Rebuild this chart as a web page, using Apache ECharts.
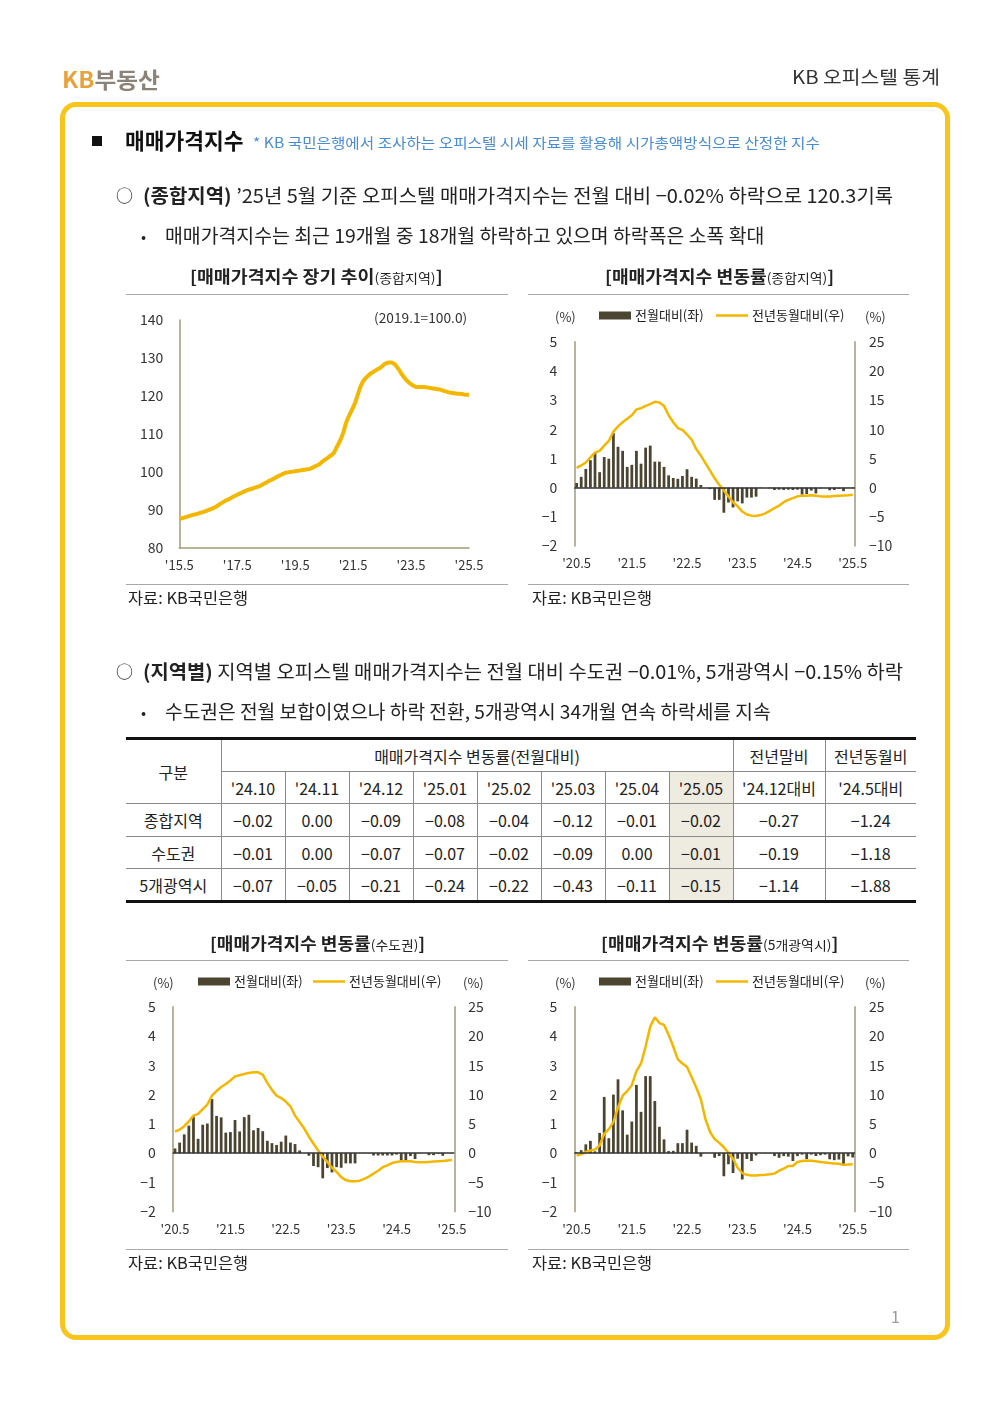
<!DOCTYPE html>
<html><head><meta charset="utf-8">
<script src="https://cdn.jsdelivr.net/npm/echarts@6/dist/echarts.min.js"></script>
<style>
body{margin:0;background:#fff;}
#page{position:relative;width:1000px;height:1414px;overflow:hidden;font-family:"Noto Sans CJK KR","Noto Sans",sans-serif;color:#222;}
.t{position:absolute;white-space:nowrap;line-height:1;transform-origin:0 50%;}
.rule{position:absolute;height:1px;background:#a8a8a8;}
#chart{position:absolute;left:0;top:0;width:1000px;height:1414px;}
#tbl{position:absolute;left:126px;top:737px;width:790px;border-collapse:collapse;table-layout:fixed;font-size:16px;color:#222;}
#tbl td{border:1px solid #8a8a8a;text-align:center;padding:0;white-space:nowrap;}
#tbl tr:first-child td{border-top:3px solid #111;}
#tbl tr:last-child td{border-bottom:3px solid #111;}
#tbl td:first-child{border-left:none;}
#tbl td:last-child{border-right:none;}
</style>
</head><body>
<div id="page">
  <div style="position:absolute;left:60px;top:102px;width:890px;height:1238px;border:5px solid #F8C51C;border-radius:16px;box-sizing:border-box;"></div>
  <div style="position:absolute;left:92px;top:136px;width:10px;height:10px;background:#111;"></div>
  <div class="rule" style="left:126px;top:294px;width:382px"></div>
  <div class="rule" style="left:126px;top:584px;width:382px"></div>
  <div class="rule" style="left:528px;top:294px;width:381px"></div>
  <div class="rule" style="left:528px;top:584px;width:381px"></div>
  <div class="rule" style="left:126px;top:960px;width:382px"></div>
  <div class="rule" style="left:126px;top:1249px;width:382px"></div>
  <div class="rule" style="left:528px;top:960px;width:381px"></div>
  <div class="rule" style="left:528px;top:1249px;width:381px"></div>
  <table id="tbl"></table>
  <div id="chart"></div>
</div>
<script>
// ---------------- data ----------------
// long-term index (2015.5 ~ 2025.5, monthly, 2019.1=100)
const index1 = [
 87.6,87.8,88.0,88.2,88.4,88.6,88.8,88.9,89.1,89.3,89.5,
 89.7,90.0,90.2,90.5,90.8,91.2,91.6,92.0,92.4,
 92.7,93.0,93.4,93.7,
 94.0,94.3,94.6,94.9,95.2,
 95.4,95.6,95.8,96.0,96.2,
 96.5,96.9,97.2,97.6,
 97.9,98.2,98.6,98.9,
 99.2,99.5,99.8,
 99.9,100.0,100.1,100.2,100.3,
 100.4,100.5,100.6,100.7,100.8,
 101.1,101.4,101.7,102.0,
 102.6,103.1,103.5,104.0,
 104.4,105.0,106.3,107.5,
 108.8,110.5,112.8,114.4,
 115.7,117.0,118.5,
 120.5,122.4,123.7,124.6,
 125.2,125.8,126.2,126.6,127.0,127.3,
 127.8,128.4,128.7,128.8,128.8,
 128.5,127.8,126.9,125.9,
 125.0,124.2,123.6,123.1,
 122.7,122.4,122.4,122.4,
 122.4,122.3,122.2,122.1,122.0,121.9,121.8,121.7,
 121.5,121.3,121.1,120.9,
 120.8,120.7,120.6,120.6,
 120.5,120.4,120.35,120.3
];
// 종합지역 (2020.5 ~ 2025.5)
const momTotal = [
 0.16,0.37,0.64,0.94,1.19,0.53,1.05,0.99,1.87,1.40,
 1.26,0.71,0.78,1.26,0.82,1.37,1.44,0.89,0.89,0.71,
 0.42,0.33,0.30,0.40,0.63,0.37,0.31,0.09,0.00,-0.05,
 -0.42,-0.42,-0.86,-0.51,-0.68,-0.47,-0.54,-0.34,-0.34,-0.31,
 -0.01,0.00,-0.02,-0.08,-0.07,-0.08,-0.07,-0.08,-0.07,-0.24,
 -0.22,-0.10,-0.20,-0.02,0.00,-0.09,-0.08,-0.04,-0.12,-0.01,
 -0.02
];
const yoyTotal = [
 3.4,3.8,4.3,5.2,6.0,6.3,7.2,8.0,9.6,10.5,
 11.2,11.8,12.4,13.4,13.6,14.0,14.3,14.7,14.6,14.0,
 12.4,11.2,10.2,9.9,9.1,8.2,6.6,5.5,4.2,2.9,
 1.6,0.5,-0.5,-1.5,-2.5,-3.2,-4.1,-4.6,-4.8,-4.85,
 -4.7,-4.4,-4.0,-3.5,-3.1,-2.5,-2.1,-1.8,-1.5,-1.4,
 -1.4,-1.3,-1.4,-1.5,-1.5,-1.5,-1.45,-1.4,-1.35,-1.3,
 -1.24
];
// 수도권
const momCapital = [
 0.16,0.36,0.64,0.94,1.25,0.49,0.97,1.01,1.85,1.27,
 1.22,0.70,0.72,1.13,0.74,1.23,1.31,0.78,0.86,0.75,
 0.42,0.34,0.28,0.39,0.60,0.36,0.31,0.09,0.00,-0.09,
 -0.44,-0.48,-0.86,-0.51,-0.66,-0.48,-0.50,-0.35,-0.35,-0.35,
 0.00,-0.01,-0.01,-0.08,-0.08,-0.08,-0.08,-0.08,-0.05,-0.26,
 -0.26,-0.10,-0.20,-0.01,0.00,-0.07,-0.07,-0.02,-0.09,0.00,
 -0.01
];
const yoyCapital = [
 3.7,4.0,4.6,5.4,6.4,6.7,7.5,8.3,9.8,10.6,
 11.3,11.8,12.4,13.1,13.3,13.5,13.7,13.8,13.8,13.4,
 12.0,10.8,9.8,9.4,8.8,8.0,6.4,5.3,4.2,2.8,
 1.6,0.45,-0.6,-1.5,-2.5,-3.2,-4.1,-4.6,-4.8,-4.8,
 -4.7,-4.4,-4.0,-3.5,-3.0,-2.4,-2.1,-1.7,-1.5,-1.4,
 -1.4,-1.4,-1.5,-1.55,-1.55,-1.5,-1.45,-1.4,-1.35,-1.25,
 -1.18
];
// 5개광역시
const momMetro = [
 0.02,0.10,0.30,0.42,0.06,0.69,1.92,0.51,2.00,2.52,
 1.46,0.63,1.08,2.33,1.41,2.63,2.63,1.78,0.90,0.47,
 0.07,0.08,0.34,0.34,0.80,0.36,0.25,-0.12,0.00,0.00,
 -0.16,-0.10,-0.79,-0.38,-0.68,-0.19,-0.90,-0.20,-0.27,-0.08,
 -0.01,-0.01,-0.01,-0.10,-0.16,-0.10,-0.12,-0.27,-0.10,-0.05,
 -0.20,-0.05,-0.10,-0.07,-0.05,-0.21,-0.24,-0.22,-0.43,-0.11,
 -0.15
];
const yoyMetro = [
 -0.4,-0.2,0.2,0.45,0.6,1.3,3.3,4.1,5.3,7.8,
 9.8,10.6,11.6,14.0,15.3,18.2,21.6,23.2,22.2,21.9,
 20.2,18.2,16.0,15.3,14.7,13.0,11.2,9.2,5.8,3.6,
 2.4,1.75,1.0,0.05,-0.95,-2.5,-3.4,-3.7,-3.8,-3.8,
 -3.75,-3.7,-3.6,-3.5,-3.0,-2.65,-2.2,-2.2,-1.5,-1.35,
 -1.25,-1.3,-1.4,-1.5,-1.6,-1.7,-1.75,-1.8,-2.0,-1.95,
 -1.88
];
// table
const tableMonths = ["'24.10","'24.11","'24.12","'25.01","'25.02","'25.03","'25.04","'25.05"];
const tableRegions = ['종합지역','수도권','5개광역시'];
const tableMoM = [
 ['-0.02','0.00','-0.09','-0.08','-0.04','-0.12','-0.01','-0.02'],
 ['-0.01','0.00','-0.07','-0.07','-0.02','-0.09','0.00','-0.01'],
 ['-0.07','-0.05','-0.21','-0.24','-0.22','-0.43','-0.11','-0.15']
];
const tableYtd = ['-0.27','-0.19','-1.14'];
const tableYoY = ['-1.24','-1.18','-1.88'];

// categories
function makeMonths(y, m, n){
  const out=[];
  for(let i=0;i<n;i++){ out.push("'" + String(y%100).padStart(2,'0') + '.' + m); m++; if(m>12){m=1;y++;} }
  return out;
}
const months1 = makeMonths(2015,5,index1.length);
const months2 = makeMonths(2020,5,momTotal.length);

// ---------------- text ----------------
const FONT = '"Noto Sans CJK KR","Noto Sans",sans-serif';
const page = document.getElementById('page');
function minus(s){ return String(s).replace('-', '\u2212'); }
const T = [
 {h:'<span style="color:#E6A23C">KB</span><span style="color:#8C8378">부동산</span>', x:62, cy:78, s:22, b:700, w:98},
 {h:'KB 오피스텔 통계', x:792, cy:76, s:18, c:'#333', w:148},
 {h:'매매가격지수', x:125, cy:139, s:22, b:700, c:'#111', w:118},
 {h:'* KB 국민은행에서 조사하는 오피스텔 시세 자료를 활용해 시가총액방식으로 산정한 지수', x:253, cy:142, s:14, c:'#4A8CD2', w:567},
 {h:'○', x:116, cy:194, s:17},
 {h:'<b>(종합지역)</b> ’25년 5월 기준 오피스텔 매매가격지수는 전월 대비 \u22120.02% 하락으로 120.3기록', x:143, cy:194, s:19, w:750},
 {h:'•', x:141, cy:235, s:15},
 {h:'매매가격지수는 최근 19개월 중 18개월 하락하고 있으며 하락폭은 소폭 확대', x:165, cy:234, s:19, w:599},
 {h:'<b>[매매가격지수 장기 추이</b><span style="font-size:13px">(종합지역)</span><b>]</b>', x:190, cy:275, s:17, w:253},
 {h:'<b>[매매가격지수 변동률</b><span style="font-size:13px">(종합지역)</span><b>]</b>', x:605, cy:275, s:17, w:229},
 {h:'(2019.1=100.0)', x:374, cy:317, s:13, c:'#333', w:93},
 {h:'(%)', x:555, cy:316, s:13, c:'#333'},
 {h:'(%)', x:865, cy:316, s:13, c:'#333'},
 {h:'자료: KB국민은행', x:128, cy:597, s:16, w:120},
 {h:'자료: KB국민은행', x:532, cy:597, s:16, w:120},
 {h:'○', x:116, cy:670, s:17},
 {h:'<b>(지역별)</b> 지역별 오피스텔 매매가격지수는 전월 대비 수도권 \u22120.01%, 5개광역시 \u22120.15% 하락', x:143, cy:670, s:19, w:760},
 {h:'•', x:141, cy:711, s:15},
 {h:'수도권은 전월 보합이였으나 하락 전환, 5개광역시 34개월 연속 하락세를 지속', x:165, cy:710, s:19, w:606},
 {h:'<b>[매매가격지수 변동률</b><span style="font-size:13px">(수도권)</span><b>]</b>', x:210, cy:942, s:17, w:215},
 {h:'<b>[매매가격지수 변동률</b><span style="font-size:13px">(5개광역시)</span><b>]</b>', x:601, cy:942, s:17, w:237},
 {h:'(%)', x:153, cy:982, s:13, c:'#333'},
 {h:'(%)', x:463, cy:982, s:13, c:'#333'},
 {h:'(%)', x:555, cy:982, s:13, c:'#333'},
 {h:'(%)', x:865, cy:982, s:13, c:'#333'},
 {h:'자료: KB국민은행', x:128, cy:1262, s:16, w:120},
 {h:'자료: KB국민은행', x:532, cy:1262, s:16, w:120},
 {h:'1', x:891, cy:1316, s:16, c:'#999'}
];
T.forEach(o=>{
  const d=document.createElement('div');
  d.className='t';
  d.innerHTML=o.h;
  d.style.left=o.x+'px';
  d.style.top=(o.cy - o.s/2)+'px';
  d.style.fontSize=o.s+'px';
  if(o.b) d.style.fontWeight=o.b;
  d.style.color=o.c||'#222';
  if(o.w) d.dataset.w=o.w;
  page.appendChild(d);
});

// table
(function(){
  const tb=document.getElementById('tbl');
  let html='<colgroup><col style="width:95px">';
  tableMonths.forEach(()=>html+='<col style="width:64px">');
  html+='<col style="width:92px"><col style="width:91px"></colgroup>';
  html+='<tr style="height:33px"><td rowspan="2">구분</td><td colspan="'+tableMonths.length+'">매매가격지수 변동률(전월대비)</td><td>전년말비</td><td>전년동월비</td></tr>';
  html+='<tr style="height:32px">';
  tableMonths.forEach((m,i)=>{ html+='<td'+(i===tableMonths.length-1?' style="background:#EEEBE1"':'')+'>'+m+'</td>'; });
  html+="<td>'24.12대비</td><td>'24.5대비</td></tr>";
  const hs=[33,32,33];
  tableRegions.forEach((r,ri)=>{
    html+='<tr style="height:'+hs[ri]+'px"><td>'+r+'</td>';
    tableMoM[ri].forEach((v,i)=>{ html+='<td'+(i===tableMonths.length-1?' style="background:#EEEBE1"':'')+'>'+minus(v)+'</td>'; });
    html+='<td>'+minus(tableYtd[ri])+'</td><td>'+minus(tableYoY[ri])+'</td></tr>';
  });
  tb.innerHTML=html;
})();

function fitAll(){
  document.querySelectorAll('[data-w]').forEach(el=>{
    el.style.transform='none';
    const w=el.offsetWidth;
    if(w>0) el.style.transform='scaleX('+(+el.dataset.w/w)+')';
  });
}
fitAll();
if(document.fonts && document.fonts.ready) document.fonts.ready.then(fitAll);

// ---------------- chart ----------------
const axisCol = '#A39A78';
const barCol = '#4B4431';
const lineCol = '#F3B700';
const lab = {color:'#333', fontSize:14, fontFamily:FONT, formatter:v=>minus(v)};
const xlab = (interval)=>({color:'#333', fontSize:13, fontFamily:FONT, interval:interval, margin:11});

const grids = [
  {left:179.3, top:320, width:289.7, height:228},
  {left:574.3, top:341.7, width:280.7, height:204.3},
  {left:172.7, top:1006.7, width:281.6, height:205},
  {left:574.3, top:1006.7, width:280.7, height:205}
];
const xAxes = [
  {gridIndex:0, type:'category', data:months1, boundaryGap:false,
   axisLine:{show:true, onZero:false, lineStyle:{color:axisCol, width:1.5}}, axisTick:{show:false}, axisLabel:xlab(23)}
];
const yAxes = [
  {gridIndex:0, type:'value', min:80, max:140, interval:10, splitLine:{show:false},
   axisLine:{show:true, lineStyle:{color:axisCol, width:1.5}}, axisTick:{show:false}, axisLabel:Object.assign({}, lab, {margin:16})}
];
const series = [
  {type:'line', xAxisIndex:0, yAxisIndex:0, data:index1, symbol:'none', name:'매매가격지수',
   lineStyle:{color:lineCol, width:4}, itemStyle:{color:lineCol}}
];
const legends = [];
const combos = [
  {g:1, mom:momTotal, yoy:yoyTotal, barLeft:599, lineLeft:716, legTop:309},
  {g:2, mom:momCapital, yoy:yoyCapital, barLeft:198, lineLeft:313, legTop:975},
  {g:3, mom:momMetro, yoy:yoyMetro, barLeft:599, lineLeft:716, legTop:975}
];
const legText = {fontSize:13, color:'#222', fontFamily:FONT, padding:[0,0,0,-1]};
combos.forEach((c)=>{
  const xi = xAxes.length;
  xAxes.push({gridIndex:c.g, type:'category', data:months2, boundaryGap:true,
    axisLine:{show:false}, axisTick:{show:false}, axisLabel:xlab(11)});
  const yl = yAxes.length;
  yAxes.push({gridIndex:c.g, type:'value', position:'left', min:-2, max:5, interval:1, splitLine:{show:false},
    axisLine:{show:true, onZero:false, lineStyle:{color:axisCol, width:1.5}}, axisTick:{show:false}, axisLabel:Object.assign({}, lab, {margin:17})});
  yAxes.push({gridIndex:c.g, type:'value', position:'right', min:-10, max:25, interval:5, splitLine:{show:false},
    axisLine:{show:true, onZero:false, lineStyle:{color:axisCol, width:1.5}}, axisTick:{show:false}, axisLabel:Object.assign({}, lab, {margin:14})});
  series.push({type:'bar', name:'전월대비(좌)', xAxisIndex:xi, yAxisIndex:yl, data:c.mom, barWidth:'60%',
    itemStyle:{color:barCol}, z:2,
    markLine:{silent:true, symbol:'none', label:{show:false}, lineStyle:{color:'#333', width:1.5, type:'solid'}, data:[{yAxis:0}]}});
  series.push({type:'line', name:'전년동월대비(우)', xAxisIndex:xi, yAxisIndex:yl+1, data:c.yoy, symbol:'none', showSymbol:false,
    lineStyle:{color:lineCol, width:2.5}, itemStyle:{color:lineCol}, z:3});
  legends.push({left:c.barLeft, top:c.legTop, padding:0, itemWidth:32, itemHeight:8, itemGap:5, selectedMode:false,
    data:[{name:'전월대비(좌)', icon:'rect'}], textStyle:legText});
  legends.push({left:c.lineLeft, top:c.legTop, padding:0, itemWidth:32, itemHeight:2.5, itemGap:5, selectedMode:false,
    data:[{name:'전년동월대비(우)', icon:'rect'}], itemStyle:{color:lineCol}, textStyle:legText});
});

const chart = echarts.init(document.getElementById('chart'), null, {renderer:'canvas'});
chart.setOption({
  animation:false,
  backgroundColor:'transparent',
  textStyle:{fontFamily:FONT},
  grid:grids, xAxis:xAxes, yAxis:yAxes, legend:legends, series:series
});
</script>
</body></html>
